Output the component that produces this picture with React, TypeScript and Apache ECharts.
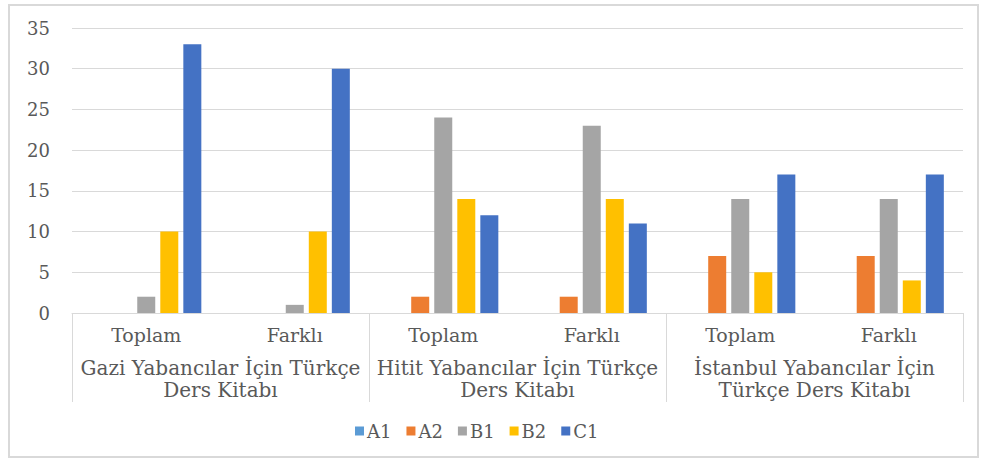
import React, { useEffect, useRef } from "react";
import * as echarts from "echarts";

const subCategories = ["Toplam", "Farklı", "Toplam", "Farklı", "Toplam", "Farklı"];
const groups = [
  "Gazi Yabancılar İçin Türkçe\nDers Kitabı",
  "Hitit Yabancılar İçin Türkçe\nDers Kitabı",
  "İstanbul Yabancılar İçin\nTürkçe Ders Kitabı",
];
const seriesNames = ["A1", "A2", "B1", "B2", "C1"];
const A1 = [0, 0, 0, 0, 0, 0];
const A2 = [0, 0, 2, 2, 7, 7];
const B1 = [2, 1, 24, 23, 14, 14];
const B2 = [10, 10, 14, 14, 5, 4];
const C1 = [33, 30, 12, 11, 17, 17];
const colors = ["#5B9BD5", "#ED7D31", "#A5A5A5", "#FFC000", "#4472C4"];
const yTicks = { min: 0, max: 35, interval: 5 };

export default function App() {
  const ref = useRef<HTMLDivElement>(null);
  useEffect(() => {
    if (!ref.current) return;
    const chart = echarts.init(ref.current, null, { renderer: "svg" });
    const font = "DejaVu Serif";
    const textColor = "#595959";
    const values = [A1, A2, B1, B2, C1];
    chart.setOption({
      animation: false,
      backgroundColor: "#ffffff",
      textStyle: { fontFamily: font },
      graphic: [
        {
          type: "rect",
          shape: { x: 9, y: 5, width: 969, height: 452 },
          style: { fill: "none", stroke: "#d9d9d9", lineWidth: 2 },
          silent: true,
        },
      ],
      grid: { left: 72, right: 24, top: 28, bottom: 147 },
      legend: {
        data: seriesNames,
        left: 350,
        top: 417,
        icon: "rect",
        itemWidth: 9,
        itemHeight: 9,
        itemGap: 15,
        textStyle: { fontFamily: font, fontSize: 18, color: textColor, padding: [0, 0, 0, -2] },
      },
      xAxis: [
        {
          type: "category",
          data: subCategories,
          position: "bottom",
          axisLine: { show: true, lineStyle: { color: "#d9d9d9", width: 1 } },
          axisTick: { show: false },
          axisLabel: { fontFamily: font, fontSize: 19, color: textColor, margin: 12, interval: 0 },
        },
        {
          type: "category",
          data: groups,
          position: "bottom",
          axisLine: { show: false },
          axisTick: { show: true, length: 89, interval: 0, lineStyle: { color: "#d9d9d9", width: 1 } },
          axisLabel: {
            fontFamily: font,
            fontSize: 20,
            color: textColor,
            margin: 44,
            interval: 0,
            lineHeight: 22,
          },
        },
      ],
      yAxis: {
        type: "value",
        min: yTicks.min,
        max: yTicks.max,
        interval: yTicks.interval,
        axisLine: { show: false },
        axisTick: { show: false },
        splitLine: { lineStyle: { color: "#d9d9d9", width: 1 } },
        axisLabel: { fontFamily: font, fontSize: 18, color: textColor, margin: 22 },
      },
      series: seriesNames.map((name, i) => ({
        name,
        type: "bar",
        xAxisIndex: 0,
        data: values[i],
        barWidth: 18,
        barGap: "28%",
        itemStyle: { color: colors[i] },
      })),
    });
    return () => chart.dispose();
  }, []);
  return (
    <div
      ref={ref}
      style={{ position: "absolute", left: 0, top: 0, width: 987, height: 460 }}
    />
  );
}
